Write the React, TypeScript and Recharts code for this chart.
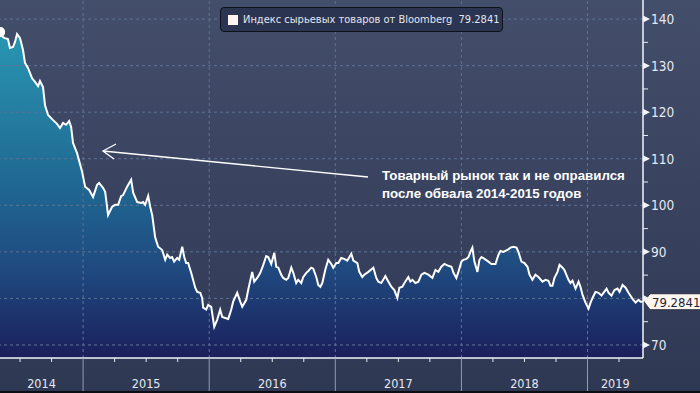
import React from "react";
import { ComposedChart, Area, Line, XAxis, YAxis, ReferenceLine } from "recharts";

// decimal years
const dates = [
  2014.341, 2014.365, 2014.381, 2014.404, 2014.42, 2014.444, 2014.46, 2014.476, 2014.5, 2014.524,
  2014.539, 2014.563, 2014.595, 2014.619, 2014.643, 2014.658, 2014.682, 2014.698, 2014.722, 2014.762,
  2014.793, 2014.817, 2014.841, 2014.865, 2014.889, 2014.905, 2014.92, 2014.952, 2014.992, 2015.016,
  2015.048, 2015.079, 2015.111, 2015.127, 2015.159, 2015.175, 2015.198, 2015.23, 2015.254, 2015.278,
  2015.302, 2015.317, 2015.349, 2015.381, 2015.397, 2015.429, 2015.46, 2015.476, 2015.492, 2015.516,
  2015.532, 2015.548, 2015.571, 2015.595, 2015.627, 2015.651, 2015.667, 2015.69, 2015.706, 2015.722,
  2015.746, 2015.762, 2015.786, 2015.802, 2015.817, 2015.833, 2015.857, 2015.889, 2015.905, 2015.929,
  2015.944, 2015.952, 2015.976, 2015.992, 2016.016, 2016.04, 2016.063, 2016.087, 2016.103, 2016.127,
  2016.151, 2016.175, 2016.19, 2016.222, 2016.246, 2016.262, 2016.294, 2016.309, 2016.341, 2016.357,
  2016.381, 2016.405, 2016.429, 2016.452, 2016.468, 2016.492, 2016.516, 2016.532, 2016.548, 2016.571,
  2016.587, 2016.611, 2016.627, 2016.651, 2016.667, 2016.69, 2016.706, 2016.73, 2016.746, 2016.77,
  2016.786, 2016.809, 2016.825, 2016.849, 2016.865, 2016.881, 2016.897, 2016.92, 2016.944, 2016.968,
  2016.984, 2017.008, 2017.024, 2017.047, 2017.071, 2017.095, 2017.127, 2017.143, 2017.175, 2017.19,
  2017.214, 2017.23, 2017.262, 2017.302, 2017.325, 2017.341, 2017.365, 2017.397, 2017.421, 2017.444,
  2017.468, 2017.492, 2017.508, 2017.532, 2017.548, 2017.579, 2017.595, 2017.611, 2017.635, 2017.659,
  2017.683, 2017.706, 2017.738, 2017.77, 2017.794, 2017.817, 2017.841, 2017.865, 2017.897, 2017.921,
  2017.937, 2017.96, 2017.976, 2018.0, 2018.016, 2018.04, 2018.056, 2018.071, 2018.087, 2018.103,
  2018.127, 2018.143, 2018.159, 2018.183, 2018.214, 2018.238, 2018.27, 2018.294, 2018.31, 2018.333,
  2018.365, 2018.389, 2018.413, 2018.437, 2018.452, 2018.476, 2018.5, 2018.524, 2018.54, 2018.563,
  2018.587, 2018.611, 2018.643, 2018.667, 2018.69, 2018.706, 2018.722, 2018.738, 2018.762, 2018.778,
  2018.802, 2018.817, 2018.849, 2018.865, 2018.881, 2018.905, 2018.929, 2018.944, 2018.96, 2018.984,
  2019.008, 2019.024, 2019.04, 2019.063, 2019.087, 2019.111, 2019.127, 2019.151, 2019.167, 2019.19,
  2019.214, 2019.238, 2019.254, 2019.278, 2019.302, 2019.325, 2019.357, 2019.381, 2019.405, 2019.421,
  2019.437,
];

const values = [
  137.2, 136.1, 135.9, 135.7, 133.8, 134.0, 135.1, 136.8, 135.9, 133.3,
  130.6, 129.5, 127.3, 126.5, 125.6, 126.7, 125.4, 121.5, 119.4, 118.3,
  117.5, 116.6, 117.7, 117.3, 118.1, 116.8, 113.4, 111.2, 107.2, 104.0,
  103.3, 101.8, 104.4, 104.8, 103.7, 102.9, 97.9, 99.7, 100.1, 100.1,
  102.0, 102.2, 104.0, 105.5, 102.7, 100.7, 100.5, 100.7, 100.1, 102.0,
  99.7, 97.9, 93.2, 91.1, 90.4, 88.3, 89.4, 88.7, 88.9, 87.9,
  88.7, 88.3, 91.1, 88.9, 87.6, 87.6, 85.5, 82.3, 81.4, 81.2,
  80.1, 78.0, 77.6, 78.6, 78.2, 73.9, 75.4, 77.6, 76.0, 75.8,
  75.6, 77.6, 79.3, 81.2, 79.3, 78.2, 79.7, 81.8, 85.7, 83.6,
  84.4, 85.5, 87.2, 89.1, 88.9, 87.4, 89.8, 86.8, 86.6, 85.1,
  84.4, 84.0, 84.4, 86.6, 85.5, 83.3, 84.0, 83.3, 84.6, 85.5,
  85.9, 86.6, 86.4, 84.6, 82.9, 82.5, 83.3, 86.1, 88.3, 87.4,
  86.6, 87.6, 87.6, 88.7, 88.5, 88.1, 89.6, 88.1, 87.6, 85.7,
  84.6, 85.1, 85.7, 86.6, 84.4, 83.6, 83.3, 84.8, 83.6, 82.5,
  81.8, 80.1, 82.3, 82.5, 83.3, 84.6, 83.6, 84.0, 83.3, 83.6,
  85.1, 85.5, 85.1, 84.4, 86.1, 85.7, 86.8, 87.4, 87.0, 86.8,
  85.5, 84.4, 85.7, 87.9, 88.3, 88.5, 88.9, 90.0, 90.9, 87.9,
  85.7, 88.3, 88.9, 88.5, 87.9, 87.4, 87.4, 89.4, 90.2, 90.0,
  90.4, 90.9, 91.1, 90.9, 90.0, 87.9, 87.6, 86.8, 85.1, 84.0,
  85.1, 84.6, 83.6, 84.0, 83.8, 82.7, 82.7, 84.4, 85.7, 87.2,
  86.6, 86.1, 84.0, 83.3, 83.8, 82.1, 83.6, 82.5, 80.8, 79.1,
  77.8, 79.1, 80.1, 81.4, 81.2, 80.6, 81.2, 82.1, 81.2, 80.6,
  81.8, 82.1, 81.4, 82.9, 82.3, 81.2, 79.9, 79.1, 79.7, 79.3,
  79.2841,
];

const lastValue = 79.2841;
const seriesName = "Индекс сырьевых товаров от Bloomberg";

const yTicks = [70, 75, 80, 85, 90, 95, 100, 105, 110, 115, 120, 125, 130, 135, 140];
const gridValues = [70, 80, 90, 100, 110, 120, 130, 140];
const yearLines = [2015, 2016, 2017, 2018, 2019];
const quarterTicks = [
  2014.5, 2014.75, 2015, 2015.25, 2015.5, 2015.75, 2016, 2016.25, 2016.5, 2016.75,
  2017, 2017.25, 2017.5, 2017.75, 2018, 2018.25, 2018.5, 2018.75, 2019, 2019.25,
];
const yearLabels = ["2014", "2015", "2016", "2017", "2018", "2019"];
const yearLabelAt = [2014.67, 2015.5, 2016.5, 2017.5, 2018.5, 2019.22];

const data = dates.map((t, i) => ({ t, v: values[i] }));
const xTicks = Array.from(new Set([...quarterTicks, ...yearLabelAt])).sort((a, b) => a - b);

const FONT = "'DejaVu Sans Condensed', 'DejaVu Sans', sans-serif";
const GRID = "#5f7294";

function XTick(props: any) {
  const { x, y, payload } = props;
  const v = payload.value;
  const li = yearLabelAt.indexOf(v);
  const isYear = yearLines.includes(v);
  const isQuarter = quarterTicks.includes(v);
  return (
    <g>
      {isYear ? (
        <line x1={x} x2={x} y1={y} y2={y + 36} stroke="#939bb0" strokeWidth={1} />
      ) : isQuarter ? (
        <line x1={x} x2={x} y1={y} y2={y + 4} stroke="#e8ebf2" strokeWidth={1} />
      ) : null}
      {li >= 0 && (
        <text x={x} y={y + 30} textAnchor="middle" fill="#e6e9f0" fontSize={12.5} fontFamily={FONT} style={{ fontStretch: "condensed" }}>
          {yearLabels[li]}
        </text>
      )}
    </g>
  );
}

function YTick(props: any) {
  const { x, y, payload } = props;
  const v = payload.value;
  if (v % 10 !== 0) {
    return <line x1={x} x2={x + 5} y1={y} y2={y} stroke="#e8ebf2" strokeWidth={1} />;
  }
  // the last-value tag sits on top of the nearby label
  const hidden = Math.abs(v - lastValue) < 3;
  return (
    <g>
      <polygon points={`${x},${y - 3.5} ${x + 7},${y} ${x},${y + 3.5}`} fill="#f2f4f8" />
      {!hidden && (
        <text x={x + 8} y={y + 5} fill="#e6e9f0" fontSize={13.5} fontFamily={FONT} style={{ fontStretch: "condensed" }}>
          {v}
        </text>
      )}
    </g>
  );
}

function ValueTag(props: any) {
  const vb = props.viewBox || {};
  const x = vb.x + vb.width;
  const y = vb.y;
  return (
    <g>
      <polygon
        points={`${x + 1},${y} ${x + 7},${y - 8} ${x + 58},${y - 8} ${x + 58},${y + 8} ${x + 7},${y + 8}`}
        fill="#fff6ef"
        stroke="#2a2f40"
        strokeWidth={1}
      />
      <text x={x + 9} y={y + 5} fill="#1d2338" fontSize={13} fontFamily={FONT} style={{ fontStretch: "condensed" }}>
        {lastValue.toFixed(4)}
      </text>
    </g>
  );
}

export default function App() {
  return (
    <div
      style={{
        position: "absolute",
        left: 0,
        top: 0,
        width: 700,
        height: 393,
        background: "linear-gradient(180deg, #434e6a 0%, #3a4461 45%, #2f3853 100%)",
        overflow: "hidden",
      }}
    >
      <ComposedChart width={700} height={393} data={data} margin={{ top: 0, right: 0, left: 0, bottom: 0 }}>
        <defs>
          <linearGradient id="fillGrad" gradientUnits="userSpaceOnUse" x1="0" y1="0" x2="0" y2="358">
            <stop offset="0%" stopColor="#2ca4bf" />
            <stop offset="12%" stopColor="#2893b0" />
            <stop offset="55%" stopColor="#1f6490" />
            <stop offset="75%" stopColor="#1f4a80" />
            <stop offset="100%" stopColor="#1b1f5b" />
          </linearGradient>
        </defs>
        <XAxis
          dataKey="t"
          type="number"
          domain={[2014.341, 2019.44]}
          allowDataOverflow
          ticks={xTicks}
          interval={0}
          height={35}
          tickSize={0}
          tickMargin={0}
          axisLine={{ stroke: "#f2f4f8", strokeWidth: 1.5 }}
          tickLine={false}
          tick={<XTick />}
        />
        <YAxis
          orientation="right"
          type="number"
          domain={[67.2, 144.1]}
          allowDataOverflow
          ticks={yTicks}
          interval={0}
          width={57}
          tickSize={0}
          tickMargin={0}
          axisLine={{ stroke: "#f2f4f8", strokeWidth: 1.5 }}
          tickLine={false}
          tick={<YTick />}
        />
        <Area
          dataKey="v"
          type="linear"
          stroke="none"
          fill="url(#fillGrad)"
          fillOpacity={1}
          isAnimationActive={false}
        />
        {gridValues.map((g) => (
          <ReferenceLine key={"h" + g} y={g} stroke={GRID} strokeDasharray="3 3" />
        ))}
        {yearLines.map((yr) => (
          <ReferenceLine key={"v" + yr} x={yr} stroke={GRID} strokeDasharray="3 3" />
        ))}
        <Line dataKey="v" type="linear" stroke="#ffffff" strokeWidth={2} dot={false} isAnimationActive={false} />
        <ReferenceLine y={lastValue} stroke="none" label={<ValueTag />} />
      </ComposedChart>

      {/* legend box */}
      <div
        style={{
          position: "absolute",
          left: 220,
          top: 7,
          width: 281,
          height: 23,
          background: "#2b3450",
          border: "1px solid #0f121b",
          borderRadius: 4,
          display: "flex",
          alignItems: "center",
          fontFamily: FONT,
          fontStretch: "condensed",
          fontSize: 11,
          color: "#e3e6ee",
          whiteSpace: "nowrap",
        }}
      >
        <span style={{ display: "inline-block", flexShrink: 0, width: 10, height: 10, background: "#fff4f0", marginLeft: 7, marginRight: 5 }} />
        <span>{seriesName}&nbsp;&nbsp;{lastValue.toFixed(4)}</span>
      </div>

      {/* annotation */}
      <svg width={700} height={393} style={{ position: "absolute", left: 0, top: 0, pointerEvents: "none" }}>
        <line x1={103} y1={151} x2={368} y2={177} stroke="#ffffff" strokeWidth={1.3} />
        <polyline points="116,144 103,151 114,159" fill="none" stroke="#ffffff" strokeWidth={1.3} />
        <text x={382} y={180} fill="#ffffff" fontSize={13.3} fontWeight="bold" fontFamily="'Liberation Sans', Arial, sans-serif">
          Товарный рынок так и не оправился
        </text>
        <text x={382} y={198} fill="#ffffff" fontSize={13.3} fontWeight="bold" fontFamily="'Liberation Sans', Arial, sans-serif">
          после обвала 2014-2015 годов
        </text>
      </svg>
      <div style={{ position: "absolute", left: 0, top: 391, width: 700, height: 2, background: "#0b0d14" }} />
    </div>
  );
}
